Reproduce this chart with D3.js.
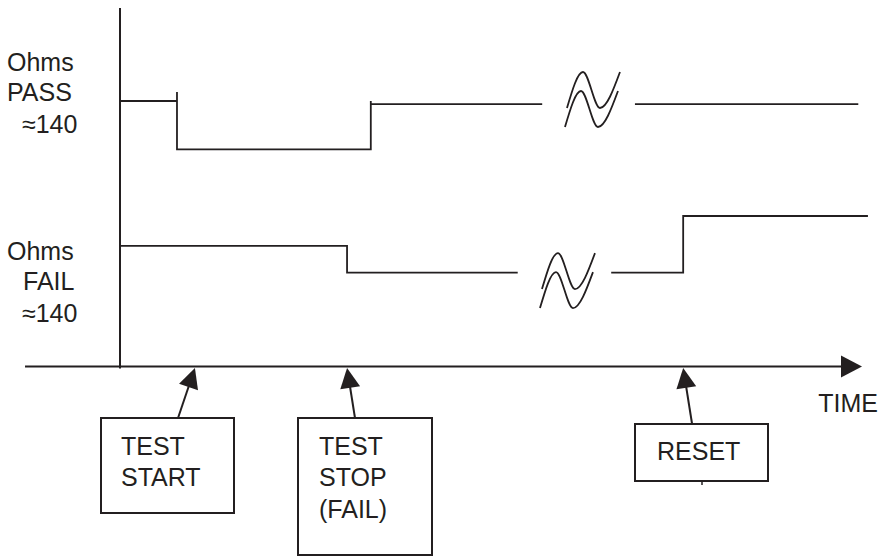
<!DOCTYPE html>
<html>
<head>
<meta charset="utf-8">
<script src="https://cdn.jsdelivr.net/npm/d3@7"></script>
<style>
body{margin:0;background:#fff}
text{font-family:"Liberation Sans",Arial,Helvetica,sans-serif;font-size:25px;fill:#231f20}
</style>
</head>
<body>
<svg id="chart" width="891" height="556"></svg>
<script>
// Data

var passSegments = [
  [[0,7.375],[7.68,7.375]],
  [[7.68,7.625],[7.68,6.03],[33.8,6.03],[33.8,7.375]],
  [[33.8,7.29],[56.9,7.29]],
  [[69.4,7.29],[99.5,7.29]]
];

var failSegments = [
  [[0,3.35],[30.6,3.35],[30.6,2.61],[53.6,2.61]],
  [[66.2,2.61],[75.9,2.61],[75.9,4.18],[100.8,4.18]]
];

// time breaks (left edge, top level)
var breaks = [[60.24,8.18],[56.87,3.15]];

var rowLabels = [["Ohms","PASS","\u2248140"],["Ohms","FAIL","\u2248140"]];

var eventLabels = [["TEST","START"],["TEST","STOP","(FAIL)"],["RESET"]];
var eventTimes = [10.1,30.6,75.9];
var axisLabel = "TIME";

// Drawing

var ink = "#231f20";
var svg = d3.select("#chart");

var x = d3.scaleLinear().domain([0,100]).range([120,862]);
var y = d3.scaleLinear().domain([0,10]).range([366.5,6.5]);

var line = d3.line().x(function(d){return x(d[0])}).y(function(d){return y(d[1])});

// axes
svg.append("line").attr("x1",x(0)).attr("x2",x(0)).attr("y1",y(9.96)).attr("y2",y(0)+2)
  .style("stroke",ink).style("stroke-width",2);
svg.append("line").attr("x1",x(-12.8)).attr("x2",x(100)-18).attr("y1",y(0)).attr("y2",y(0))
  .style("stroke",ink).style("stroke-width",2);
svg.append("path")
  .attr("d","M"+x(100)+","+y(0)+"L"+(x(100)-21)+","+(y(0)-11)+"L"+(x(100)-21)+","+(y(0)+11)+"Z")
  .style("fill",ink);

svg.append("text").attr("x",x(94.1)).attr("y",412).text(axisLabel);

// traces
svg.selectAll(".trace").data(passSegments.concat(failSegments)).enter().append("path")
  .attr("class","trace")
  .attr("d",line)
  .style("fill","none").style("stroke",ink).style("stroke-width",1.8);

// break symbols
var wave = [[0,36],[16,0],[33,36],[53,0]];
var waveLine = d3.line().curve(d3.curveMonotoneX);

breaks.forEach(function(b){
  var bx = x(b[0]), by = y(b[1]);
  [[0,0],[-2,19]].forEach(function(o){
    svg.append("path")
      .attr("d",waveLine(wave.map(function(p){return [bx+o[0]+p[0],by+o[1]+p[1]]})))
      .style("fill","none").style("stroke",ink).style("stroke-width",1.8);
  });
});

// row labels
var labelX = [[7,7,22],[7,23,22]];
var labelY = [[71,101,133],[260,290,322]];
rowLabels.forEach(function(rows,i){
  rows.forEach(function(t,j){
    svg.append("text").attr("x",labelX[i][j]).attr("y",labelY[i][j]).text(t);
  });
});

// event boxes and arrows
var boxes = [
  {x:101,y:418,w:133,h:95,tail:7.82,tx:121},
  {x:298,y:418,w:134,h:137,tail:31.67,tx:319},
  {x:635,y:424,w:133,h:57,tail:77.1,tx:657}
];
var boxLineY = [[455,486],[455,486,518],[460]];

eventLabels.forEach(function(lines,i){
  var b = boxes[i];
  svg.append("rect").attr("x",b.x).attr("y",b.y).attr("width",b.w).attr("height",b.h)
    .style("fill","none").style("stroke",ink).style("stroke-width",2);
  lines.forEach(function(t,j){
    svg.append("text").attr("x",b.tx).attr("y",boxLineY[i][j]).text(t);
  });

  var x1 = x(b.tail), y1 = b.y, x2 = x(eventTimes[i]), y2 = y(0)+1.5;
  var dx = x2-x1, dy = y2-y1, L = Math.hypot(dx,dy), ux = dx/L, uy = dy/L;
  var len = 20, half = 10;
  var bx = x2-ux*len, by = y2-uy*len;
  svg.append("line").attr("x1",x1).attr("y1",y1).attr("x2",bx+ux*2).attr("y2",by+uy*2)
    .style("stroke",ink).style("stroke-width",2);
  svg.append("path")
    .attr("d","M"+x2+","+y2+"L"+(bx-uy*half)+","+(by+ux*half)+"L"+(bx+uy*half)+","+(by-ux*half)+"Z")
    .style("fill",ink);
});

// little mark under the reset box
svg.append("line").attr("x1",702).attr("x2",702).attr("y1",481).attr("y2",485)
  .style("stroke",ink).style("stroke-width",1.5);
</script>
</body>
</html>
